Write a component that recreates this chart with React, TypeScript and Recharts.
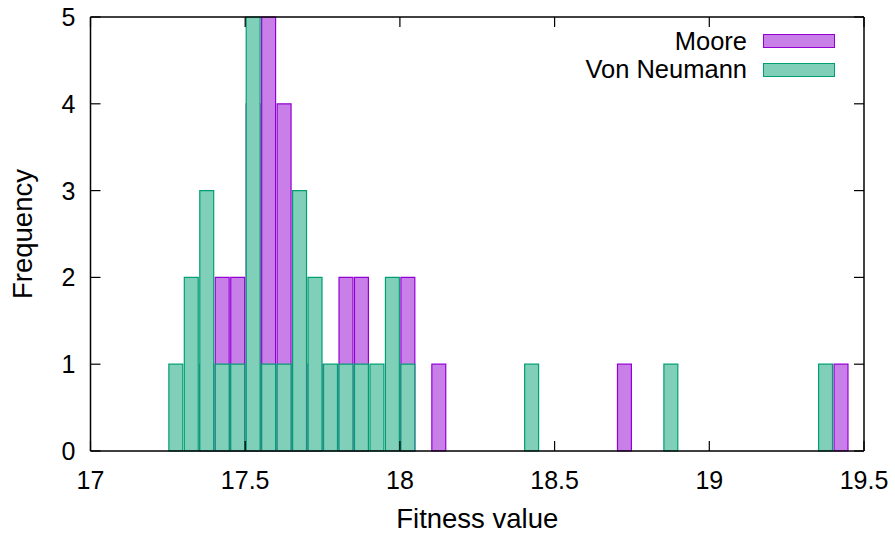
import React from 'react';
import { ComposedChart, Bar, XAxis, YAxis, Legend } from 'recharts';

// histogram bins, 0.05 wide, starting at 17.00
const binStarts = [
  '17.00', '17.05', '17.10', '17.15', '17.20', '17.25', '17.30', '17.35', '17.40', '17.45',
  '17.50', '17.55', '17.60', '17.65', '17.70', '17.75', '17.80', '17.85', '17.90', '17.95',
  '18.00', '18.05', '18.10', '18.15', '18.20', '18.25', '18.30', '18.35', '18.40', '18.45',
  '18.50', '18.55', '18.60', '18.65', '18.70', '18.75', '18.80', '18.85', '18.90', '18.95',
  '19.00', '19.05', '19.10', '19.15', '19.20', '19.25', '19.30', '19.35', '19.40', '19.45',
];

const mooreCounts = [
  0, 0, 0, 0, 0, 0, 0, 1, 2, 2,
  4, 5, 4, 2, 1, 0, 2, 2, 0, 0,
  2, 0, 1, 0, 0, 0, 0, 0, 0, 0,
  0, 0, 0, 0, 1, 0, 0, 0, 0, 0,
  0, 0, 0, 0, 0, 0, 0, 0, 1, 0,
];

const vonNeumannCounts = [
  0, 0, 0, 0, 0, 1, 2, 3, 1, 1,
  5, 1, 1, 3, 2, 1, 1, 1, 1, 2,
  1, 0, 0, 0, 0, 0, 0, 0, 1, 0,
  0, 0, 0, 0, 0, 0, 0, 1, 0, 0,
  0, 0, 0, 0, 0, 0, 0, 1, 0, 0,
];

const binWidth = 0.05;
const xTicks = [17, 17.5, 18, 18.5, 19, 19.5];
const yTicks = [0, 1, 2, 3, 4, 5];

const MOORE_FILL = '#c880e8';
const MOORE_LINE = '#9400d3';
const VN_FILL = '#80cfb9';
const VN_LINE = '#009e73';
const FONT = '"Liberation Sans", Arial, sans-serif';

const data = binStarts.map((b, i) => ({
  x: parseFloat(b) + binWidth / 2,
  moore: mooreCounts[i] || null,
  vn: vonNeumannCounts[i] || null,
}));

const tickText = { fontFamily: FONT, fontSize: 25, fill: '#000' };
const labelText = { fontFamily: FONT, fontSize: 27.5, fill: '#000' };

const BottomTick = (p: any) => (
  <g>
    <line x1={p.x} x2={p.x} y1={p.y} y2={p.y - 10} stroke="#000" strokeWidth={1.2} />
    <text x={p.x} y={p.y + 38} textAnchor="middle" style={tickText}>{String(p.payload.value)}</text>
  </g>
);
const TopTick = (p: any) => (
  <line x1={p.x} x2={p.x} y1={p.y} y2={p.y + 10} stroke="#000" strokeWidth={1.2} />
);
const LeftTick = (p: any) => (
  <g>
    <line x1={p.x} x2={p.x + 10} y1={p.y} y2={p.y} stroke="#000" strokeWidth={1.2} />
    <text x={p.x - 15} y={p.y + 9} textAnchor="end" style={tickText}>{String(p.payload.value)}</text>
  </g>
);
const RightTick = (p: any) => (
  <line x1={p.x} x2={p.x - 10} y1={p.y} y2={p.y} stroke="#000" strokeWidth={1.2} />
);

const legendItems = [
  { name: 'Moore', fill: MOORE_FILL, line: MOORE_LINE },
  { name: 'Von Neumann', fill: VN_FILL, line: VN_LINE },
];

const LegendBox = () => (
  <div style={{ fontFamily: FONT, fontSize: 25.5, color: '#000' }}>
    {legendItems.map((it) => (
      <div key={it.name} style={{ display: 'flex', alignItems: 'center', justifyContent: 'flex-end', height: 28.5 }}>
        <span style={{ marginRight: 16, lineHeight: 1 }}>{it.name}</span>
        <span style={{ width: 70, height: 12, flexShrink: 0, background: it.fill, border: `1px solid ${it.line}` }} />
      </div>
    ))}
  </div>
);

const axisLine = { stroke: '#000', strokeWidth: 1.5 };

export default function App() {
  return (
    <div style={{ position: 'absolute', left: 0, top: 0, background: '#fff' }}>
      <ComposedChart
        width={895}
        height={534}
        data={data}
        margin={{ top: 16, right: 30, bottom: 0, left: 0 }}
        barCategoryGap={0}
        barGap={0}
      >
        <XAxis
          xAxisId="m"
          dataKey="x"
          type="number"
          domain={[17, 19.5]}
          allowDataOverflow
          ticks={xTicks}
          interval={0}
          height={83}
          tickSize={0}
          tickMargin={0}
          tickLine={false}
          tick={BottomTick}
          axisLine={axisLine}
          label={{ value: 'Fitness value', position: 'insideBottom', offset: 6, style: { ...labelText } }}
        />
        <XAxis
          xAxisId="v"
          orientation="top"
          dataKey="x"
          type="number"
          domain={[17, 19.5]}
          allowDataOverflow
          ticks={xTicks}
          interval={0}
          height={1}
          tickSize={0}
          tickMargin={0}
          tickLine={false}
          tick={TopTick}
          axisLine={axisLine}
        />
        <YAxis
          yAxisId="left"
          type="number"
          domain={[0, 5]}
          ticks={yTicks}
          interval={0}
          width={90.5}
          tickSize={0}
          tickMargin={0}
          tickLine={false}
          tick={LeftTick}
          axisLine={axisLine}
          label={{ value: 'Frequency', angle: -90, position: 'insideLeft', offset: 22, style: { ...labelText, textAnchor: 'middle' } }}
        />
        <YAxis
          yAxisId="right"
          orientation="right"
          type="number"
          domain={[0, 5]}
          ticks={yTicks}
          interval={0}
          width={1}
          tickSize={0}
          tickMargin={0}
          tickLine={false}
          tick={RightTick}
          axisLine={axisLine}
        />
        <Legend
          layout="vertical"
          align="center"
          verticalAlign="middle"
          content={() => <LegendBox />}
          wrapperStyle={{ position: 'absolute', top: 27, left: 500, width: 335, height: 60 }}
        />
        <Bar
          xAxisId="m"
          yAxisId="left"
          dataKey="moore"
          name="Moore"
          barSize={15.47}
          fill={MOORE_FILL}
          stroke={MOORE_LINE}
          strokeWidth={1.2}
          isAnimationActive={false}
        />
        <Bar
          xAxisId="v"
          yAxisId="right"
          dataKey="vn"
          name="Von Neumann"
          barSize={15.47}
          fill={VN_FILL}
          stroke={VN_LINE}
          strokeWidth={1.2}
          isAnimationActive={false}
        />
      </ComposedChart>
    </div>
  );
}
